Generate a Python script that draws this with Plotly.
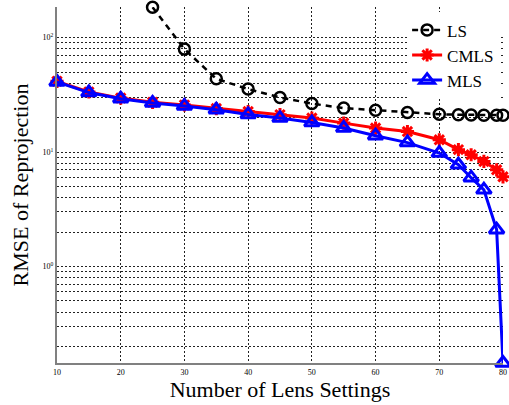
import numpy as np
import plotly.graph_objects as go

# Number of lens settings used in each run
lens_settings = [10, 15, 20, 25, 30, 35, 40, 45, 50, 55, 60, 65, 70, 73, 75, 77, 79, 80]
ls_settings = lens_settings[3:]

# RMSE of reprojection for each method
rmse_ls = [184, 79.3, 43.6, 35.5, 30.0, 26.5, 24.2, 23.2, 22.2, 21.4, 21.2, 21.1, 21.0, 21.0, 21.0]
rmse_cmls = [41.5, 33.5, 29.6, 27.2, 25.8, 24.0, 22.6, 21.2, 19.8, 17.9, 16.2, 15.1,
             12.8, 10.5, 9.47, 8.28, 7.0, 6.08]
rmse_mls = [41.0, 33.1, 29.2, 26.8, 25.3, 23.4, 21.3, 19.8, 18.1, 16.2, 13.9, 12.1,
            9.8, 7.74, 5.97, 4.68, 2.10, 0.1436]

x_ticks = [10, 20, 30, 40, 50, 60, 70, 80]
y_decades = [1, 10, 100]
y_decade_labels = ["10<sup>0</sup>", "10<sup>1</sup>", "10<sup>2</sup>"]

y_min, y_max = 0.1436, 185

# minor grid lines on the 2..9 steps inside each decade
y_minor = [round(d * k, 6) for d in [0.1, 1, 10, 100] for k in range(2, 10)
           if y_min <= d * k <= y_max]

serif = "Liberation Serif, Times New Roman, serif"

fig = go.Figure()
fig.add_trace(go.Scatter(
    x=ls_settings, y=rmse_ls, name="LS", mode="lines+markers",
    line=dict(color="black", width=2.5, dash="6px,5px"),
    marker=dict(symbol="circle-open", size=11, color="black", line=dict(width=2.5)),
    cliponaxis=False,
))
fig.add_trace(go.Scatter(
    x=lens_settings, y=rmse_cmls, name="CMLS", mode="lines+markers",
    line=dict(color="red", width=3),
    marker=dict(symbol="asterisk-open", size=11, color="red", line=dict(width=3, color="red")),
    cliponaxis=False,
))
fig.add_trace(go.Scatter(
    x=lens_settings, y=rmse_mls, name="MLS", mode="lines+markers",
    line=dict(color="blue", width=3),
    marker=dict(symbol="triangle-up-open", size=13, color="blue", line=dict(width=3, color="blue")),
    cliponaxis=False,
))

grid_style = dict(showgrid=True, gridcolor="#222222", gridwidth=1, griddash="2px,2px")

fig.update_layout(
    width=509, height=405,
    margin=dict(l=57, r=2, t=7, b=42),
    plot_bgcolor="white", paper_bgcolor="white",
    font=dict(family=serif, color="black"),
    showlegend=True,
    legend=dict(
        x=0.785, y=0.985, xanchor="left", yanchor="top",
        bgcolor="white", borderwidth=0,
        font=dict(family=serif, size=17, color="black"),
        tracegroupgap=0, itemwidth=30,
    ),
    xaxis=dict(
        range=[10, 80], tickmode="array", tickvals=x_ticks,
        ticks="", tickfont=dict(family=serif, size=8, color="black"),
        ticklabeloverflow="allow",
        showline=True, linecolor="#808080", linewidth=2,
        zeroline=False,
        title=dict(text="Number of Lens Settings", font=dict(family=serif, size=22), standoff=4),
        **grid_style,
    ),
    yaxis=dict(
        type="log", range=[np.log10(y_min), np.log10(y_max)],
        tickmode="array", tickvals=y_decades, ticktext=y_decade_labels,
        ticks="", tickfont=dict(family=serif, size=8, color="black"),
        showline=True, linecolor="#808080", linewidth=2,
        zeroline=False,
        minor=dict(tickmode="array", tickvals=y_minor, ticks="",
                   showgrid=True, gridcolor="#222222", gridwidth=1, griddash="2px,2px"),
        title=dict(text="RMSE of Reprojection", font=dict(family=serif, size=22), standoff=8),
        **grid_style,
    ),
)

fig.write_html("out.html")
